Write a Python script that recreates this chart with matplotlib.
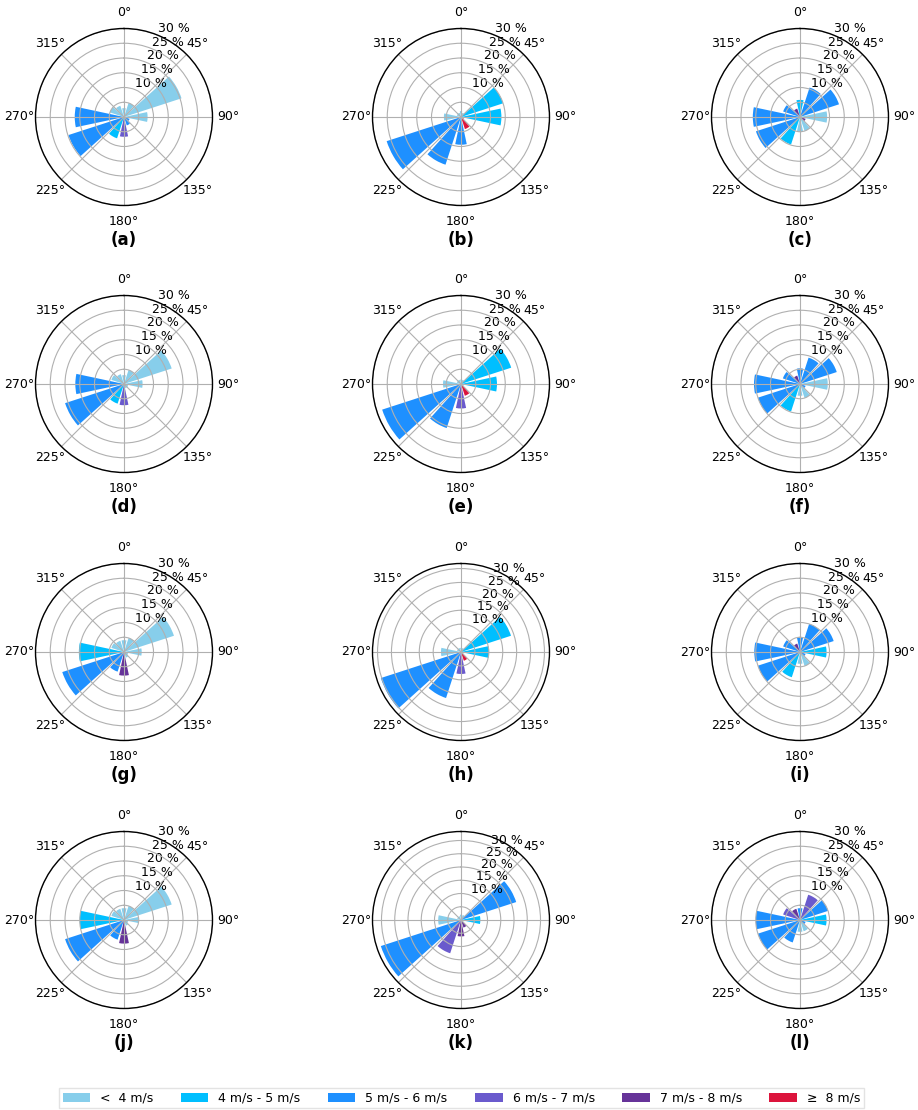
import numpy as np
import matplotlib
matplotlib.use("Agg")
import matplotlib.pyplot as plt
from matplotlib.patches import Patch

# ---------------- data ----------------
directions = [0, 30, 60, 90, 120, 150, 180, 210, 240, 270, 300, 330]
speed_labels = ["<  4 m/s", "4 m/s - 5 m/s", "5 m/s - 6 m/s",
                "6 m/s - 7 m/s", "7 m/s - 8 m/s", "\u2265  8 m/s"]
speed_colors = ["#87CEEB", "#00BFFF", "#1E90FF", "#6A5ACD", "#663399", "#DC143C"]
panel_labels = ["(a)", "(b)", "(c)", "(d)", "(e)", "(f)",
                "(g)", "(h)", "(i)", "(j)", "(k)", "(l)"]
r_ticks = [5, 10, 15, 20, 25, 30]
r_tick_labels = ["", "10 %", "15 %", "20 %", "25 %", "30 %"]
theta_ticks = [0, 45, 90, 135, 180, 225, 270, 315]
theta_tick_labels = ["0°", "45°", "90°", "135°", "180°", "225°", "270°", "315°"]

# frequency (%) per direction and speed class index per direction
freq_a = [3, 5, 20.5, 8, 2, 3, 6.7, 7.6, 19.8, 16.7, 5, 4]
cls_a = [0, 0, 0, 0, 2, 2, 3, 1, 2, 2, 0, 0]
freq_b = [2, 1.5, 15, 13.7, 1, 4.3, 9.4, 17, 26.5, 5.8, 1.5, 1.5]
cls_b = [0, 0, 1, 1, 5, 5, 2, 2, 2, 0, 0, 0]
freq_c = [5.8, 10.5, 13.9, 9.2, 2, 5, 5, 9.8, 15.7, 16, 6, 3]
cls_c = [1, 2, 2, 0, 4, 0, 0, 1, 2, 2, 2, 4]
freq_d = [3, 5, 17, 6.3, 1.5, 1.5, 7.2, 7, 21, 16.5, 4.5, 3.5]
cls_d = [0, 0, 0, 0, 0, 0, 3, 1, 2, 2, 0, 0]
freq_e = [1.5, 1.5, 17.9, 12.2, 1, 4.2, 8.3, 15.7, 28.1, 6.1, 1.5, 1.5]
cls_e = [0, 0, 1, 1, 0, 5, 3, 2, 2, 0, 0, 0]
freq_f = [5.3, 9.4, 13.1, 9.4, 2, 5, 4, 9.8, 15, 15.6, 6.1, 3]
cls_f = [2, 2, 2, 0, 2, 0, 0, 1, 2, 2, 2, 4]
freq_g = [4, 5, 17.8, 6, 1.5, 2, 8, 7, 22, 15.3, 4.5, 4]
cls_g = [0, 0, 0, 0, 0, 0, 4, 2, 2, 1, 0, 0]
freq_h = [1.5, 1.5, 18.9, 10.1, 1, 3.3, 7.9, 17.4, 30.3, 7.2, 1.5, 1.5]
cls_h = [0, 0, 1, 1, 0, 5, 3, 2, 2, 0, 0, 0]
freq_i = [5, 10, 12, 9, 2, 5, 4, 9, 15, 15.5, 6, 3]
cls_i = [2, 2, 2, 1, 2, 0, 0, 1, 2, 2, 2, 4]
freq_j = [4, 5, 17, 5, 1.5, 2, 8, 7, 21, 15, 4.5, 4]
cls_j = [0, 0, 0, 0, 0, 0, 4, 2, 2, 1, 0, 0]
freq_k = [2, 2, 21.9, 7.3, 1, 3, 6.2, 13.2, 31.8, 8.6, 1.5, 1.5]
cls_k = [0, 0, 2, 1, 0, 4, 4, 3, 2, 0, 0, 0]
freq_l = [4, 9, 10, 9, 2, 4, 4, 8, 15, 15, 6, 4]
cls_l = [2, 3, 2, 1, 2, 0, 0, 2, 2, 2, 3, 4]

all_freq = [freq_a, freq_b, freq_c, freq_d, freq_e, freq_f,
            freq_g, freq_h, freq_i, freq_j, freq_k, freq_l]
all_cls = [cls_a, cls_b, cls_c, cls_d, cls_e, cls_f,
           cls_g, cls_h, cls_i, cls_j, cls_k, cls_l]

# ---------------- figure ----------------
W, H = 918, 1110
fig = plt.figure(figsize=(W / 100, H / 100), dpi=100)

col_cx = [124, 461, 800]
row_cy = [117, 384, 652, 920]
R = 88.5

theta = np.radians(directions)
width = np.radians(24)

for idx in range(12):
    r, c = divmod(idx, 3)
    cx, cy = col_cx[c], row_cy[r]
    ax = fig.add_axes([(cx - R) / W, 1 - (cy + R) / H, 2 * R / W, 2 * R / H],
                      projection="polar")
    ax.set_theta_zero_location("N")
    ax.set_theta_direction(-1)
    f = np.array(all_freq[idx], dtype=float)
    cols = [speed_colors[k] for k in all_cls[idx]]
    ax.bar(theta, f, width=width, color=cols, linewidth=0, zorder=1)
    ax.set_ylim(0, max(30, f.max() * 1.05))
    ax.set_rgrids(r_ticks, r_tick_labels, angle=22.5, fontsize=9)
    ax.set_thetagrids(theta_ticks, theta_tick_labels, fontsize=9)
    ax.tick_params(axis="x", pad=1.0)
    ax.grid(True, color="#b0b0b0", linewidth=0.8)
    ax.spines["polar"].set_linewidth(1.0)
    ax.text(0.5, -0.195, panel_labels[idx], transform=ax.transAxes,
            ha="center", va="center", fontsize=12, fontweight="bold")

handles = [Patch(facecolor=col, edgecolor="none") for col in speed_colors]
fig.legend(handles, speed_labels, loc="center", bbox_to_anchor=(0.5027, 0.0108),
           ncol=6, fontsize=9, frameon=True, handlelength=2.2, columnspacing=2.2,
           handletextpad=0.8, borderpad=0.3, fancybox=False, edgecolor="#dddddd")

fig.savefig("out.png", dpi=100)
